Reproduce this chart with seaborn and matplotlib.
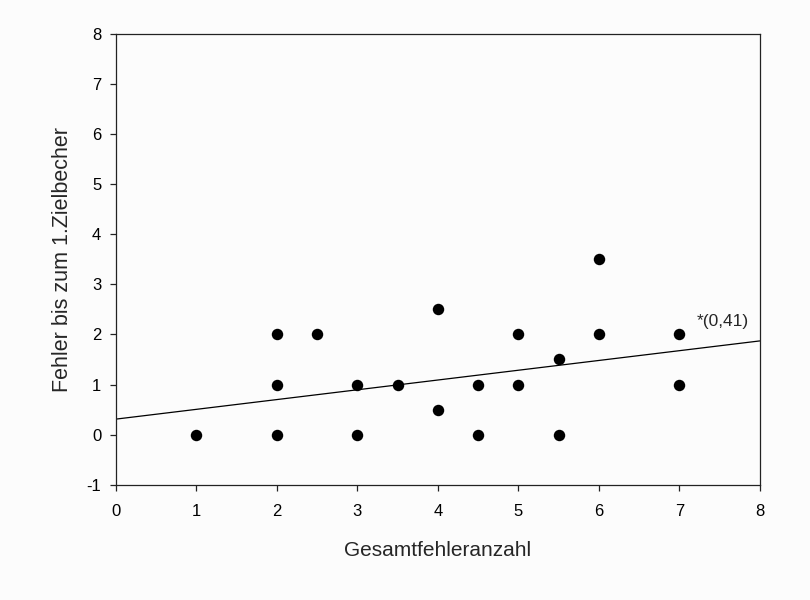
import numpy as np
import pandas as pd
import seaborn as sns
import matplotlib.pyplot as plt

# data
gesamt = [1, 2, 2, 2, 2.5, 3, 3, 3.5, 4, 4, 4.5, 4.5, 5, 5, 5.5, 5.5, 6, 6, 7, 7]
fehler = [0, 0, 1, 2, 2, 0, 1, 1, 0.5, 2.5, 0, 1, 1, 2, 0, 1.5, 2, 3.5, 1, 2]

# regression line as drawn (intercept, slope)
line_x = [0, 8]
intercept = 0.31
slope = 0.195
label_text = "*(0,41)"

BG = "#fcfcfc"

sns.set_theme(style="ticks")
plt.rcParams['font.family'] = ['Liberation Sans', 'DejaVu Sans']
plt.rcParams['axes.unicode_minus'] = False

df = pd.DataFrame({"Gesamtfehleranzahl": gesamt, "Fehler": fehler})

fig = plt.figure(figsize=(8.1, 6.0), dpi=100, facecolor=BG)
ax = fig.add_axes([0.143, 0.192, 0.795, 0.752], facecolor=BG)

sns.scatterplot(data=df, x="Gesamtfehleranzahl", y="Fehler", ax=ax,
                color="black", s=68, edgecolor="black", linewidth=0, zorder=3)

ly = [intercept + slope * v for v in line_x]
ax.plot(line_x, ly, color="black", linewidth=0.9, zorder=2)
ax.text(7.22, 2.25, label_text, fontsize=12.5, ha="left", va="center")

ax.set_xlim(0, 8)
ax.set_ylim(-1, 8)
ax.set_xticks(range(0, 9))
ax.set_yticks(range(-1, 9))
ax.set_xlabel("Gesamtfehleranzahl", fontsize=15, labelpad=16)
ax.set_ylabel("Fehler bis zum 1.Zielbecher", fontsize=15.5, labelpad=10)
ax.tick_params(axis="x", pad=9)
ax.tick_params(axis="y", pad=6)
ax.tick_params(axis="both", labelsize=12, direction="out", length=4.5, width=0.9,
               color="#222222", labelcolor="black", top=False, right=False)
for sp in ax.spines.values():
    sp.set_visible(True)
    sp.set_color("#222222")
    sp.set_linewidth(0.9)

fig.savefig("out.png", dpi=100, facecolor=BG)
